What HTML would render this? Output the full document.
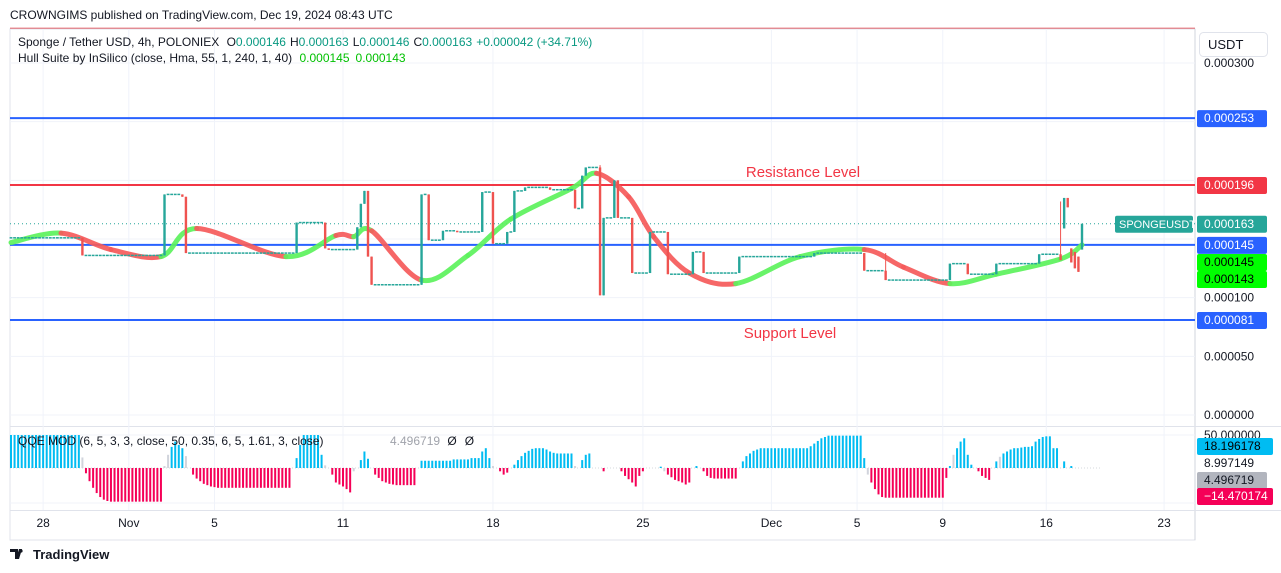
<!DOCTYPE html>
<html><head><meta charset="utf-8"><style>
body{margin:0;background:#fff;font-family:"Liberation Sans",sans-serif;}
#w{position:relative;width:1281px;height:573px;overflow:hidden;background:#fff;}
svg text{font-family:"Liberation Sans",sans-serif;}
</style></head><body>
<div id="w">
<svg id="s" width="1281" height="573" xmlns="http://www.w3.org/2000/svg">
<text x="10" y="19" font-size="12" fill="#131722">CROWNGIMS published on TradingView.com, Dec 19, 2024 08:43 UTC</text>
<line x1="10" y1="28.5" x2="1195" y2="28.5" stroke="#e0343f" stroke-width="1.5"/>
<rect x="10" y="29" width="1185" height="511" fill="none" stroke="#e0e3eb"/>
<line x1="1195" y1="29" x2="1195" y2="540" stroke="#d1d4dc"/>
<line x1="10" y1="426.5" x2="1281" y2="426.5" stroke="#e0e3eb"/>
<line x1="10" y1="510.5" x2="1281" y2="510.5" stroke="#e0e3eb"/>
<g id="grid"></g>
<g id="levels"></g>
<g id="hull"></g>
<g id="candles"></g>
<g id="qqe"></g>
<text x="803" y="177" font-size="15" fill="#f23645" text-anchor="middle">Resistance Level</text>
<text x="790" y="338" font-size="15" fill="#f23645" text-anchor="middle">Support Level</text>
<text x="18" y="46" font-size="12" fill="#131722">Sponge / Tether USD, 4h, POLONIEX <tspan dx="4">O</tspan><tspan fill="#089981">0.000146</tspan><tspan dx="4">H</tspan><tspan fill="#089981">0.000163</tspan><tspan dx="4">L</tspan><tspan fill="#089981">0.000146</tspan><tspan dx="4">C</tspan><tspan fill="#089981">0.000163</tspan><tspan dx="4" fill="#089981">+0.000042 (+34.71%)</tspan></text>
<text x="18" y="62" font-size="12" fill="#131722">Hull Suite by InSilico (close, Hma, 55, 1, 240, 1, 40) <tspan dx="4" fill="#00c000">0.000145</tspan><tspan dx="6" fill="#00c000">0.000143</tspan></text>
<text x="18" y="445" font-size="12" fill="#131722">QQE MOD (6, 5, 3, 3, close, 50, 0.35, 6, 5, 1.61, 3, close)</text>
<text x="390" y="445" font-size="12" fill="#a0a3ab">4.496719 <tspan dx="4" fill="#131722">Ø</tspan><tspan dx="8" fill="#131722">Ø</tspan></text>
<g><rect x="1199.5" y="32.5" width="68" height="24" rx="4" fill="#fff" stroke="#e0e3eb"/><text x="1208" y="49" font-size="13" fill="#131722">USDT</text></g>
<g id="axis"></g>
<g id="xaxis"></g>
<g><path d="M10 549h8v10h-3v-7h-5zM19 549l3 0 -3 10h-3z" fill="#131722"/><circle cx="21" cy="551" r="1.6" fill="#131722"/><text x="33" y="559" font-size="13" font-weight="bold" fill="#131722">TradingView</text></g>
</svg></div>
<script>
// ---- data ----
const startPrice = 151; // price units 1e-6
const candleIdx = [20,43,48,49,80,88,89,97,98,99,100,101,115,117,121,125,132,135,139,141,144,151,158,160,161,165,166,169,170,174,179,184,191,194,204,225,239,245,263,268,276,288,294,295,296,297,298,299,300];
const candleO = [151,136,188,186,138,164,142,141,160,180,191,135,111,188,149,157,156,190,146,156,191,194,192,176,204,211,102,168,200,168,121,156,120,139,121,135,138,123,115,129,120,129,137,159,185,142,139,135,141];
const candleH = [151,188,188,186,164,164,142,160,180,191,191,135,188,188,157,157,190,190,156,191,194,194,192,204,211,213,168,200,200,168,156,156,139,139,135,138,138,138,129,129,129,137,182,185,185,142,139,135,163];
const candleL = [136,136,186,138,138,142,141,141,160,180,135,111,111,149,149,156,156,146,146,156,191,192,176,176,204,102,102,168,168,121,121,120,120,121,121,135,123,115,115,120,120,129,132,159,177,130,125,122,141];
const candleC = [136,188,186,138,164,142,141,160,180,191,135,111,188,149,157,156,190,146,156,191,194,192,176,204,211,102,168,200,168,121,156,120,139,121,135,138,123,115,129,120,129,137,132,185,177,130,125,122,163];
const lastPrice = 163;
const hullIdx = [0,14,28,42,52,77,91,96,101,115,128,140,157,164,173,180,190,203,221,239,250,263,276,294,300];
const hullVal = [147,155,141,135,159,135,153,152,157,115,136,167,193,206,186,152,121,112,135,141,126,112,120,133,145];
const levelPrices = [253,196,145,81];
const levelColors = ["#2962ff","#f23645","#2962ff","#2962ff"];
const priceTicks = [300,250,200,150,100,50,0];
const dateLabels = ["28","Nov","5","11","18","25","Dec","5","9","16","23"];
const dateIdx = [9,33,57,93,135,177,213,237,261,290,323];
const qqeVals = [50,50,50,50,50,50,50,50,50,50,50,50,50,50,50,50,50,50,50,50,16,-8,-20,-30,-38,-44,-48,-50,-51,-51,-51,-51,-51,-51,-51,-51,-51,-51,-51,-51,-51,-51,-51,3,20,32,40,35,30,18,0,-10,-16,-20,-24,-26,-28,-29,-30,-30,-30,-30,-30,-30,-30,-30,-30,-30,-30,-30,-30,-30,-30,-30,-30,-30,-30,-30,-30,0,15,35,50,50,50,50,50,20,4,0,-10,-22,-25,-28,-32,-37,-5,0,12,25,14,0,-10,-15,-20,-22,-24,-25,-26,-26,-26,-26,-26,-26,0,11,11,11,11,11,11,11,11,11,13,13,13,13,13,15,15,15,25,30,15,3,0,-5,-10,-7,0,5,12,18,23,26,29,30,30,30,28,25,23,22,22,22,22,22,3,0,12,20,22,0,0,0,-5,0,0,0,0,-5,-12,-17,-22,-28,-12,-5,0,0,0,0,2,-5,-10,-14,-18,-20,-22,-25,-22,0,3,0,-5,-12,-15,-16,-16,-16,-16,-16,-16,-16,0,10,18,22,26,28,30,30,30,30,30,30,30,30,30,30,30,30,30,30,33,37,41,45,47,49,49,49,49,49,49,49,49,49,49,15,-10,-22,-32,-40,-44,-45,-45,-45,-45,-45,-45,-45,-45,-45,-45,-45,-45,-45,-45,-45,-45,-45,-15,3,20,30,40,45,20,5,0,-5,-12,-15,-18,0,10,17,22,25,28,30,30,31,32,32,33,40,44,47,48,48,30,30,0,10,0,3];
const greyBars = [20,43,44,49,88,96,135,158,183,193,240,264,270,277,296,298];
// ---- scales ----
const NS="http://www.w3.org/2000/svg";
function X(i){return 11+i*3.57;}
function Y(p){return 415-p*1.1733;}
function QY(v){return 468-v*0.66;}
function mk(tag,parent,attrs){const e=document.createElementNS(NS,tag);for(const k in attrs)e.setAttribute(k,attrs[k]);parent.appendChild(e);return e;}
const grid=document.getElementById('grid');
dateIdx.forEach((d,i)=>{const l=mk('line',grid,{x1:X(d),x2:X(d),y1:29,y2:510,stroke:'#f0f3fa'});

});
priceTicks.forEach(p=>{const l=mk('line',grid,{x1:10,x2:1195,y1:Y(p),y2:Y(p),stroke:'#f0f3fa'});

});
[435,503].forEach(y=>{const l=mk('line',grid,{x1:10,x2:1195,y1:y,y2:y,stroke:'#f0f3fa'});

});
const zl=mk('line',grid,{x1:10,x2:1100,y1:QY(0),y2:QY(0),stroke:'#d6d8de','stroke-dasharray':'1 2'});


const lv=document.getElementById('levels');
levelPrices.forEach((p,i)=>{const l=mk('line',lv,{x1:10,x2:1195,y1:Y(p),y2:Y(p),stroke:levelColors[i],'stroke-width':2});

});
const pl=mk('line',lv,{x1:10,x2:1195,y1:Y(lastPrice),y2:Y(lastPrice),stroke:'#26a69a','stroke-dasharray':'1 3'});


const hg=document.getElementById('hull');
const pts=hullIdx.map((d,i)=>[X(d),Y(hullVal[i])]);
for(let i=0;i<pts.length-1;i++){
 const p0=pts[Math.max(0,i-1)],p1=pts[i],p2=pts[i+1],p3=pts[Math.min(pts.length-1,i+2)];
 const c1=[p1[0]+(p2[0]-p0[0])/6,p1[1]+(p2[1]-p0[1])/6],c2=[p2[0]-(p3[0]-p1[0])/6,p2[1]-(p3[1]-p1[1])/6];
 const up=hullVal[i+1]>=hullVal[i];
 const e=mk('path',hg,{d:`M${p1[0]},${p1[1]}C${c1[0]},${c1[1]} ${c2[0]},${c2[1]} ${p2[0]},${p2[1]}`,fill:'none',stroke:up?'#5cf25c':'#f55a5a','stroke-width':5,'stroke-linecap':'round','stroke-opacity':0.92});
 
 
}
const cg=document.getElementById('candles');
let prev=startPrice,ci=0;
const lastBar=candleIdx[candleIdx.length-1];
for(let b=0;b<=lastBar;b++){
 const x=X(b);
 if(ci<candleIdx.length&&candleIdx[ci]===b){
  const o=candleO[ci],h=candleH[ci],l=candleL[ci],c=candleC[ci];const col=c>=o?'#26a69a':'#ef5350';
  const w=mk('line',cg,{x1:x,x2:x,y1:Y(h),y2:Y(l),stroke:col,'stroke-width':1});
  
  
  const r=mk('rect',cg,{x:x-1.2,y:Math.min(Y(o),Y(c)),width:2.4,height:Math.max(1.5,Math.abs(Y(o)-Y(c))),fill:col});
  
  
  prev=c;ci++;
 } else {
  const r=mk('rect',cg,{x:x-1.4,y:Y(prev)-0.75,width:2.8,height:1.5,fill:'#26a69a'});
  
  
 }
}
const qg=document.getElementById('qqe');
qqeVals.forEach((v,i)=>{if(v===0)return;const col=greyBars.includes(i)?'#d1d4dc':(v>0?'#00bcf2':'#f50057');
 const r=mk('rect',qg,{x:X(i)-1,y:Math.min(QY(v),QY(0)),width:2,height:Math.abs(QY(v)-QY(0)),fill:col});
 
 });
const ax=document.getElementById('axis');
const tickTxt={300:'0.000300',100:'0.000100',50:'0.000050',0:'0.000000'};
priceTicks.forEach(p=>{if(!tickTxt[p])return;const t=mk('text',ax,{x:1204,y:Y(p)+4,'font-size':12,fill:'#131722'});t.textContent=tickTxt[p];
 
 });
function tag(y,txt,bg,fg,x,w,fs){const g=mk('g',ax,{});mk('rect',g,{x:x||1197,y:y-8,width:w||70,height:17,rx:2,fill:bg});const t=mk('text',g,{x:(x||1197)+(fs?4:7),y:y+4,'font-size':fs||12,fill:fg});t.textContent=txt;
 
 }
tag(Y(253),'0.000253','#2962ff','#fff');
tag(Y(196),'0.000196','#f23645','#fff');
tag(Y(163),'0.000163','#26a69a','#fff');
tag(Y(163),'SPONGEUSDT','#26a69a','#fff',1115,78,11);
tag(Y(145),'0.000145','#2962ff','#fff');
tag(262,'0.000145','#00ff00','#000');
tag(279,'0.000143','#00ff00','#000');
tag(Y(81),'0.000081','#2962ff','#fff');
const q50=mk('text',ax,{x:1204,y:439,'font-size':12,fill:'#131722'});q50.textContent='50.000000';


tag(446,'18.196178','#00bcf2','#000',1197,76);
const q9=mk('text',ax,{x:1204,y:467,'font-size':12,fill:'#131722'});q9.textContent='8.997149';


tag(480,'4.496719','#b2b5be','#131722',1197,70);
tag(496,'\u221214.470174','#f50057','#fff',1197,76);
const xa=document.getElementById('xaxis');
dateLabels.forEach((d,i)=>{const t=mk('text',xa,{x:X(dateIdx[i]),y:527,'font-size':12,fill:'#131722','text-anchor':'middle'});t.textContent=d;
 
 });
</script>
</body></html>
